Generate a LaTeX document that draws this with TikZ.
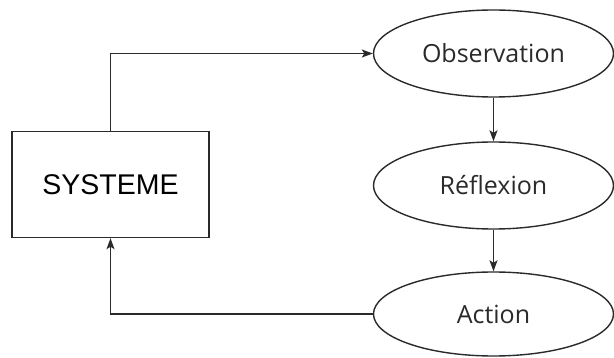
\documentclass[tikz,border=0pt]{standalone}
\usepackage{fontspec}
\setmainfont{Liberation Sans}
\newfontfamily\labelfont{Open Sans}
\usetikzlibrary{shapes.geometric,arrows.meta}
\definecolor{ink}{HTML}{2A2A2A}
\tikzset{
  stage/.style={draw=ink, line width=1.4pt, ellipse, inner sep=0pt,
    minimum width=240pt, minimum height=87pt,
    font=\labelfont\fontsize{25}{25}\selectfont, text=ink},
  sysbox/.style={draw=ink, line width=1.4pt, rectangle, inner sep=0pt,
    minimum width=197pt, minimum height=106pt,
    font=\fontsize{28.5}{28.5}\selectfont, text=black},
  link/.style={draw=ink, line width=1.3pt,
    -{Stealth[length=11pt,width=8pt,inset=2.5pt]}}
}
\begin{document}
\begin{tikzpicture}[x=1pt,y=-1pt]
  \useasboundingbox (0,0) rectangle (614,358);
  \node[sysbox] (sys) at (110.5,184.5) {SYSTEME};
  \node[stage] (obs) at (493.5,53.5) {Observation};
  \node[stage] (ref) at (493.5,185.5) {Réflexion};
  \node[stage, minimum height=84pt] (act) at (493.5,314) {Action};
  \draw[link] (sys.north) |- (obs.west);
  \draw[link] (obs.south) -- (ref.north);
  \draw[link] (ref.south) -- (act.north);
  \draw[link] (act.west) -| (sys.south);
\end{tikzpicture}
\end{document}
